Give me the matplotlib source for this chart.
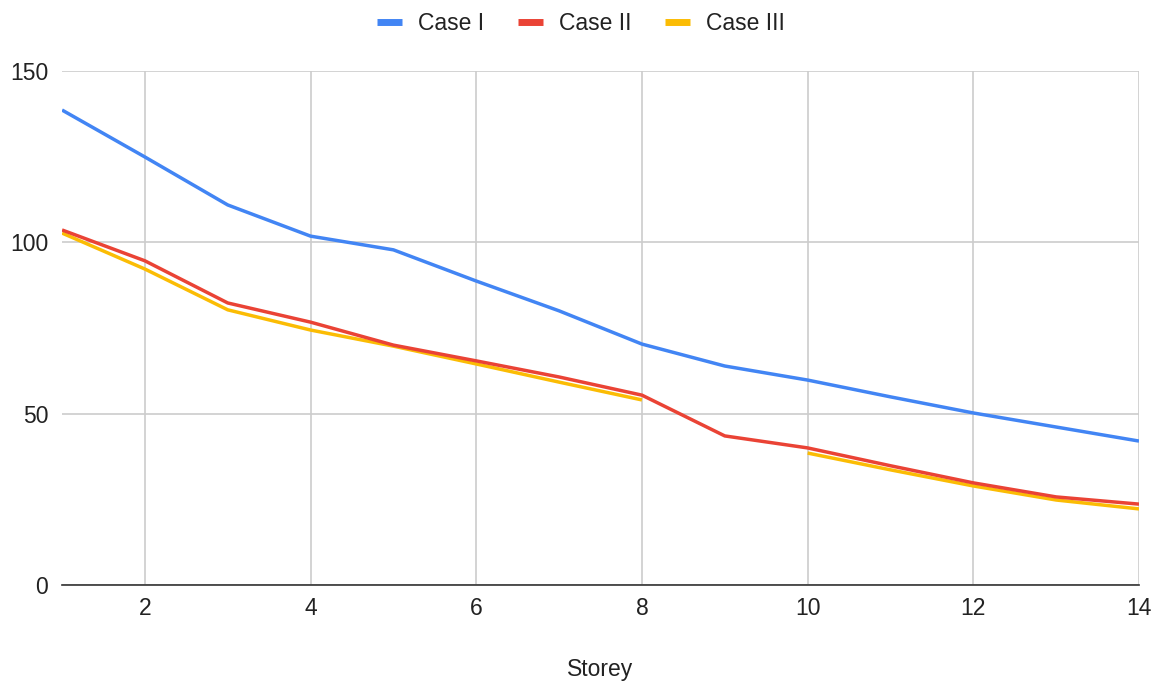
import numpy as np
import matplotlib.pyplot as plt

plt.rcParams['font.family'] = ['Liberation Sans', 'DejaVu Sans']

storey = [1, 2, 3, 4, 5, 6, 7, 8, 9, 10, 11, 12, 13, 14]
case_1 = [138.6, 124.9, 110.9, 101.8, 97.8, 88.7, 80.0, 70.3, 63.9, 59.8, 54.9, 50.2, 46.1, 42.0]
case_2 = [103.6, 94.6, 82.3, 76.7, 70.0, 65.4, 60.7, 55.4, 43.5, 40.0, 34.8, 29.8, 25.7, 23.6]
case_3 = [102.7, 92.2, 80.3, 74.4, 69.7, 64.5, 59.2, 54.0, np.nan, 38.5, 33.6, 28.9, 24.8, 22.2]

fig = plt.figure(figsize=(11.62, 6.85), dpi=100)
ax = fig.add_axes([0.0534, 0.146, 0.9268, 0.7504])

ax.plot(storey, case_1, color='#4285F4', lw=2.5, label='Case I', zorder=3, solid_capstyle='butt')
ax.plot(storey, case_3, color='#FBBC04', lw=2.5, label='Case III', zorder=3, solid_capstyle='butt')
ax.plot(storey, case_2, color='#EA4335', lw=2.5, label='Case II', zorder=4, solid_capstyle='butt')

ax.set_xlim(1, 14)
ax.set_ylim(0, 150)
ax.set_xticks([2, 4, 6, 8, 10, 12, 14])
ax.set_yticks([0, 50, 100, 150])
ax.grid(True, color='#cccccc', lw=1.2)
ax.set_axisbelow(True)
for s in ['top', 'right', 'left']:
    ax.spines[s].set_visible(False)
ax.spines['bottom'].set_color('#333333')
ax.spines['bottom'].set_linewidth(1.2)
ax.spines['bottom'].set_zorder(5)
ax.tick_params(length=0, labelsize=16.5, labelcolor='#222222', pad=9)
ax.tick_params(axis='y', pad=10)
ax.set_xlabel('Storey', fontsize=16.5, color='#222222', labelpad=27)

h, l = ax.get_legend_handles_labels()
order = [0, 2, 1]
leg = fig.legend([h[i] for i in order], [l[i] for i in order], loc='upper center',
                 bbox_to_anchor=(0.5, 1.012), ncol=3, frameon=False, fontsize=16.5,
                 handlelength=1.1, handletextpad=0.7, columnspacing=1.45)
for line in leg.get_lines():
    line.set_linewidth(5)
for t in leg.get_texts():
    t.set_color('#222222')

fig.savefig('out.png', dpi=100)
